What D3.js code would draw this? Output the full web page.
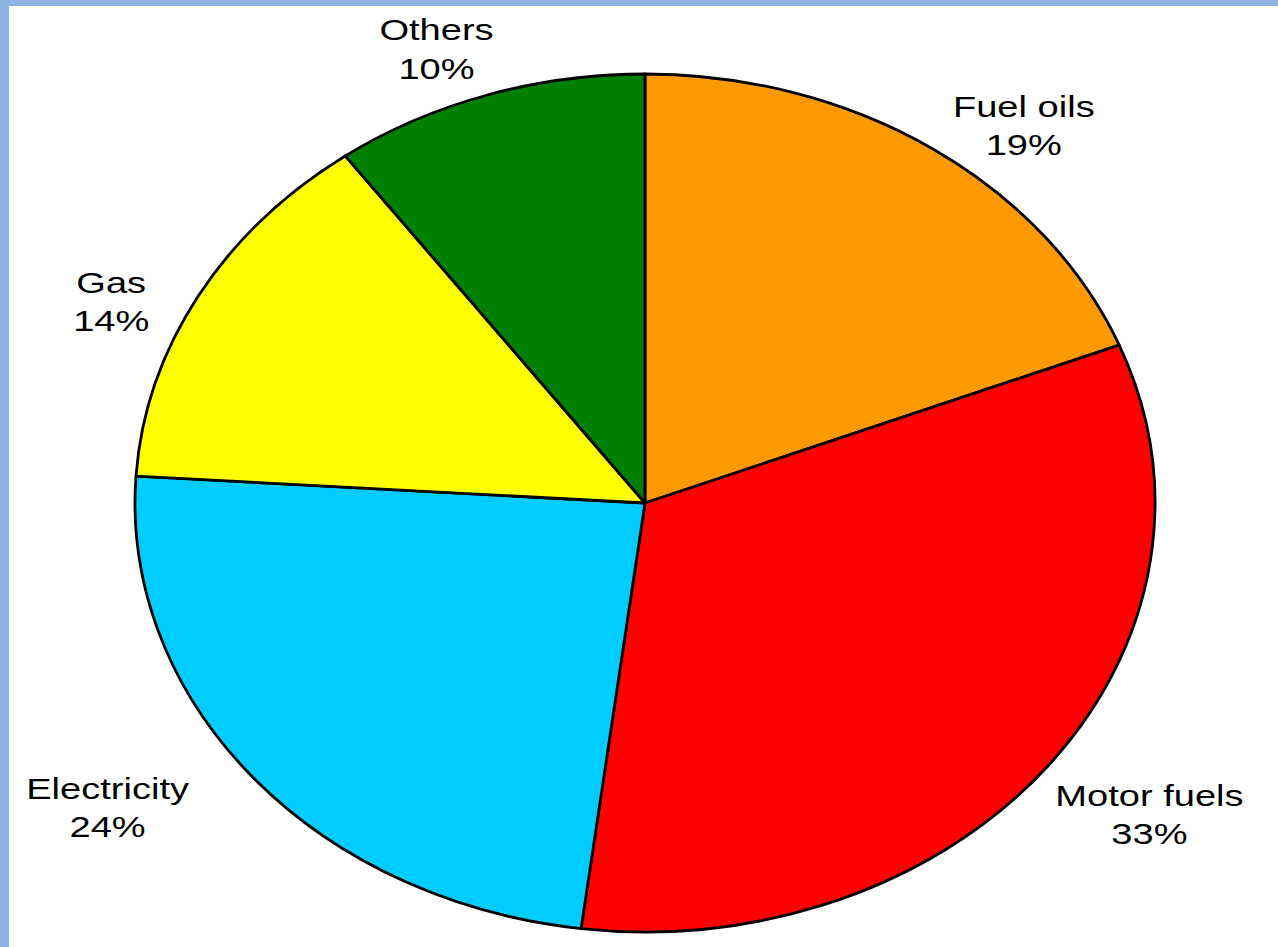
<!DOCTYPE html>
<html>
<head>
<meta charset="utf-8">
<script src="https://cdn.jsdelivr.net/npm/d3@7/dist/d3.min.js"></script>
<style>
  html, body { margin: 0; padding: 0; background: #ffffff; }
  svg { display: block; }
</style>
</head>
<body>
<svg id="chart" width="1278" height="947"></svg>
<script>
// ---- data ----
const categories = ["Fuel oils", "Motor fuels", "Electricity", "Gas", "Others"];
const shares = [19, 33, 24, 14, 10];
const percentLabels = ["19%", "33%", "24%", "14%", "10%"];
const sliceColors = ["#FF9900", "#FF0000", "#00CCFF", "#FFFF00", "#008000"];

// ---- layout (not data) ----
const W = 1278, H = 947;
const cx = 645, cy = 503, rx = 510, ry = 429;
const labelRx = 665, labelRy = 470;
const labelNudge = [[5, 21], [-21, 33], [-25, 15], [49, 35], [-3, 3]];

const svg = d3.select("#chart");

// frame strips
svg.append("rect").attr("x", 0).attr("y", 0).attr("width", W).attr("height", 6).attr("fill", "#8EB4E3");
svg.append("rect").attr("x", 0).attr("y", 0).attr("width", 9).attr("height", H).attr("fill", "#8EB4E3");

const data = categories.map((c, i) => ({ name: c, value: shares[i], pct: percentLabels[i], color: sliceColors[i] }));

const pie = d3.pie().sort(null).value(d => d.value).startAngle(0).endAngle(2 * Math.PI);
const arcs = pie(data);

const arc = d3.arc().innerRadius(0).outerRadius(ry);

const g = svg.append("g")
  .attr("transform", `translate(${cx},${cy}) scale(${rx / ry},1)`);

g.selectAll("path.slice")
  .data(arcs)
  .enter().append("path")
  .attr("class", "slice")
  .attr("d", arc)
  .attr("fill", d => d.data.color)
  .attr("stroke", "#000")
  .attr("stroke-width", 2.8)
  .attr("stroke-linejoin", "round")
  .attr("vector-effect", "non-scaling-stroke");

// labels
const labels = svg.append("g").attr("class", "labels");
arcs.forEach((d, i) => {
  const mid = (d.startAngle + d.endAngle) / 2;
  const x = cx + labelRx * Math.sin(mid) + labelNudge[i][0];
  const y = cy - labelRy * Math.cos(mid) + labelNudge[i][1];
  const t = labels.append("text")
    .attr("transform", `translate(${x},${y}) scale(1.36,1.03)`)
    .attr("text-anchor", "middle")
    .attr("font-family", "'Liberation Sans', Arial, sans-serif")
    .attr("font-size", 28)
    .attr("fill", "#000");
  t.append("tspan").attr("x", 0).attr("y", -18).text(d.data.name);
  t.append("tspan").attr("x", 0).attr("y", 19).text(d.data.pct);
});
</script>
</body>
</html>
